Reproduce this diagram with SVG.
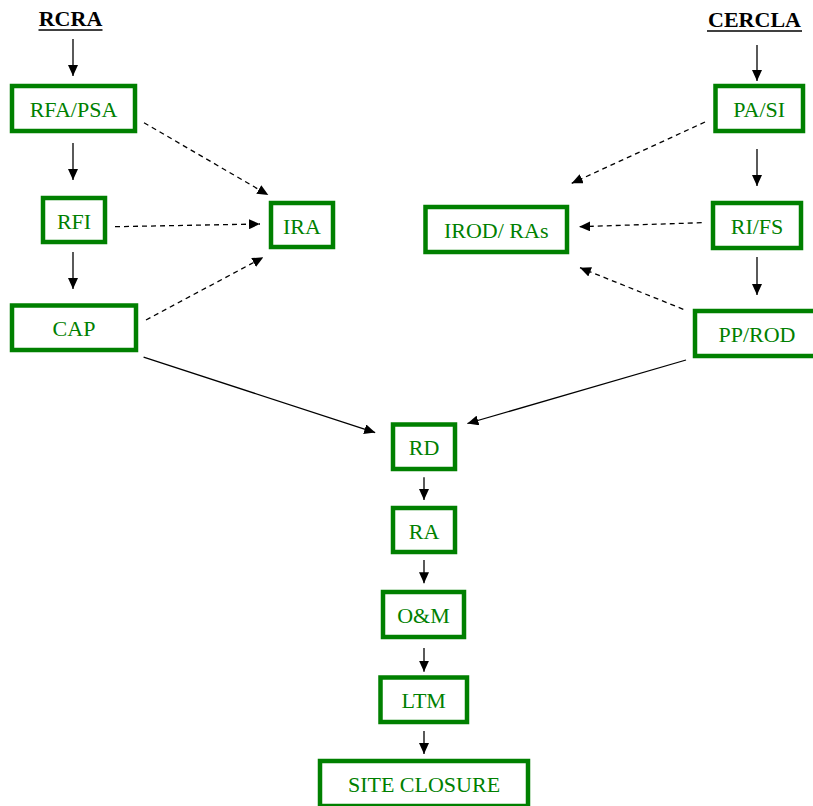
<svg xmlns="http://www.w3.org/2000/svg" width="813" height="806" viewBox="0 0 813 806">
<style>
.box{fill:#fff;stroke:#008000;stroke-width:4.5}
.lbl{font-family:"Liberation Serif","Times New Roman",serif;font-size:22px;fill:#008000;text-anchor:middle}
.hdr{font-family:"Liberation Serif","Times New Roman",serif;font-size:22px;font-weight:bold;fill:#000;text-anchor:middle}
.c{stroke:#000;stroke-width:1.3;fill:none;marker-end:url(#ah)}
.d{stroke-dasharray:5 4}
.ul{stroke:#000;stroke-width:1.6}
</style>
<defs>
<marker id="ah" markerUnits="userSpaceOnUse" markerWidth="11" markerHeight="10" refX="11" refY="5" orient="auto">
<path d="M0,0 L11,5 L0,10 z" fill="#000"/>
</marker>
</defs>
<rect width="813" height="806" fill="#fff"/>
<g id="hdr-rcra"><text class="hdr" x="70.5" y="26">RCRA</text><line class="ul" x1="38.5" y1="30" x2="102.5" y2="30"/></g>
<g id="hdr-cercla"><text class="hdr" x="754.5" y="27">CERCLA</text><line class="ul" x1="707" y1="31" x2="802" y2="31"/></g>
<g id="connectors">
<line class="c" x1="73" y1="39" x2="73" y2="76"/>
<line class="c" x1="73" y1="143" x2="73" y2="180"/>
<line class="c" x1="73" y1="252" x2="73" y2="289"/>
<line class="c d" x1="144" y1="122.7" x2="268.3" y2="195"/>
<line class="c d" x1="115" y1="226.7" x2="260" y2="224"/>
<line class="c d" x1="146" y1="320" x2="263.3" y2="257.3"/>
<line class="c" x1="757" y1="45" x2="757" y2="81"/>
<line class="c" x1="757" y1="149" x2="757" y2="186"/>
<line class="c" x1="757" y1="257" x2="757" y2="295"/>
<line class="c d" x1="705" y1="122" x2="571.7" y2="183.3"/>
<line class="c d" x1="701.7" y1="222.7" x2="579.3" y2="226.7"/>
<line class="c d" x1="683.3" y1="309.3" x2="580" y2="267.7"/>
<line class="c" x1="143.6" y1="357.2" x2="375.2" y2="432.6"/>
<line class="c" x1="686" y1="360" x2="467.4" y2="423.5"/>
<line class="c" x1="424" y1="477.3" x2="424" y2="500"/>
<line class="c" x1="424" y1="560" x2="424" y2="583.3"/>
<line class="c" x1="424" y1="648" x2="424" y2="671.7"/>
<line class="c" x1="424" y1="731" x2="424" y2="754"/>
</g>
<g id="n-rfapsa"><rect class="box" x="12" y="86" width="123" height="45"/><text class="lbl" x="73.5" y="117.3">RFA/PSA</text></g>
<g id="n-rfi"><rect class="box" x="43" y="198" width="62" height="44"/><text class="lbl" x="74" y="228.5">RFI</text></g>
<g id="n-ira"><rect class="box" x="271" y="203" width="62" height="44"/><text class="lbl" x="302" y="233.5">IRA</text></g>
<g id="n-cap"><rect class="box" x="12" y="305.5" width="124" height="44.5"/><text class="lbl" x="74" y="336.2">CAP</text></g>
<g id="n-pasi"><rect class="box" x="715.5" y="86" width="87.5" height="45"/><text class="lbl" x="759.2" y="117">PA/SI</text></g>
<g id="n-rifs"><rect class="box" x="713" y="203" width="88" height="45"/><text class="lbl" x="757" y="234">RI/FS</text></g>
<g id="n-irod"><rect class="box" x="425.5" y="207" width="141.5" height="45"/><text class="lbl" x="496.2" y="238">IROD/ RAs</text></g>
<g id="n-pprod"><rect class="box" x="695" y="311" width="124" height="45"/><text class="lbl" x="757" y="342">PP/ROD</text></g>
<g id="n-rd"><rect class="box" x="393" y="424.5" width="62" height="44.5"/><text class="lbl" x="424" y="455.2">RD</text></g>
<g id="n-ra"><rect class="box" x="393" y="508" width="62" height="44"/><text class="lbl" x="424" y="538.5">RA</text></g>
<g id="n-om"><rect class="box" x="383" y="592" width="81" height="45"/><text class="lbl" x="423.5" y="623">O&amp;M</text></g>
<g id="n-ltm"><rect class="box" x="380.5" y="677.5" width="86.5" height="44.5"/><text class="lbl" x="423.7" y="708.2">LTM</text></g>
<g id="n-site"><rect class="box" x="320" y="761" width="208" height="45"/><text class="lbl" x="424" y="792">SITE CLOSURE</text></g>
</svg>
